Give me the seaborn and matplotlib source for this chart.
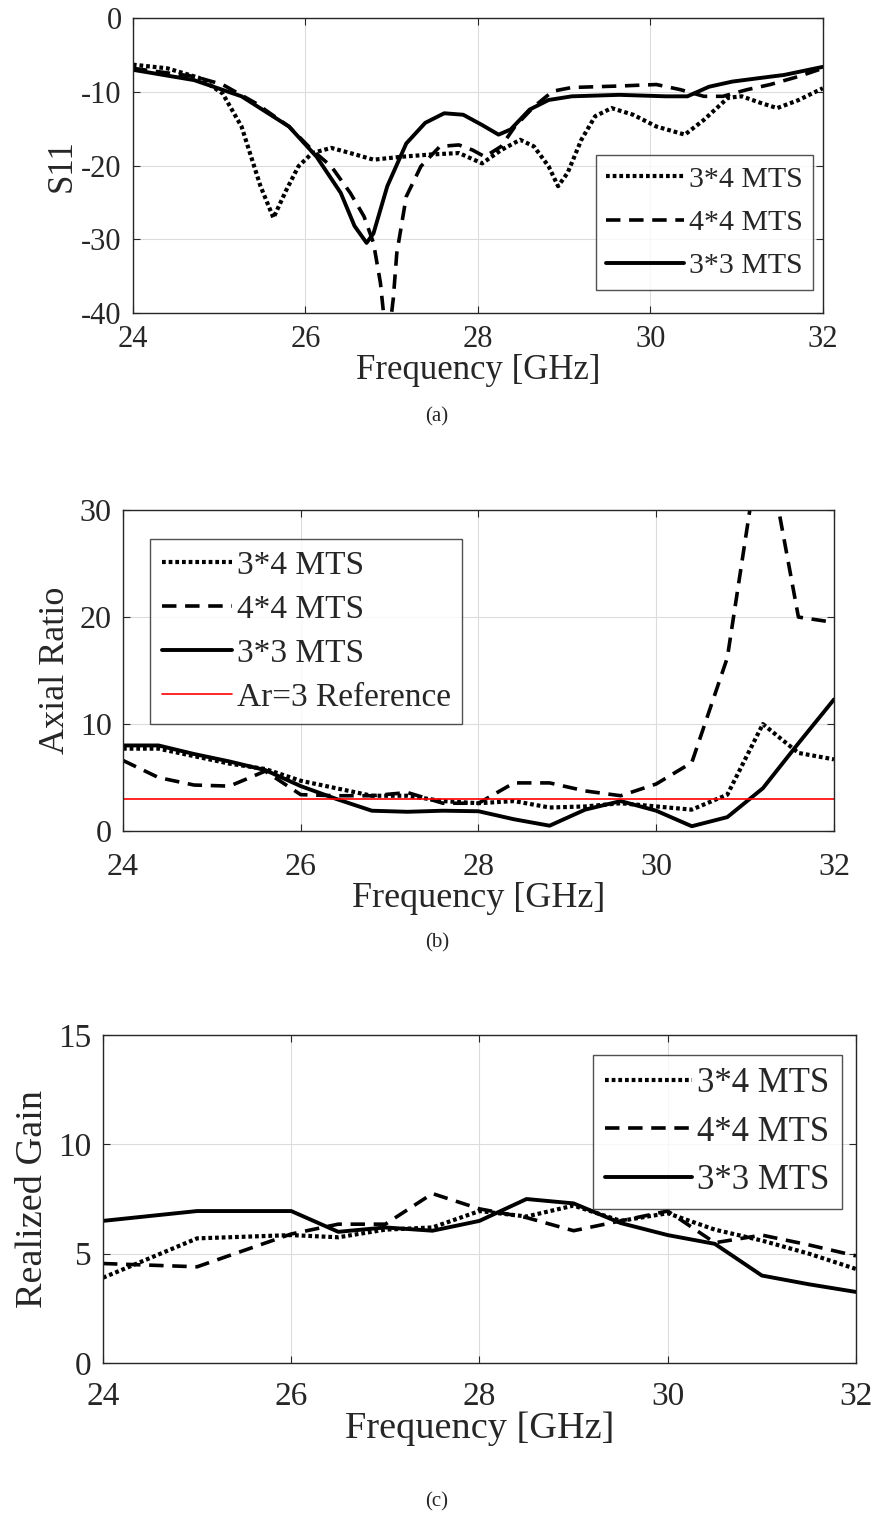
import pandas as pd
import matplotlib
matplotlib.use("Agg")
import matplotlib.pyplot as plt
import seaborn as sns

# ---- panel (a): S11 ----
s11_f_34 = [24.0, 24.4, 24.77, 25.04, 25.26, 25.48, 25.63, 25.78, 25.92, 26.08, 26.3, 26.52, 26.79,
            27.12, 27.45, 27.78, 28.05, 28.27, 28.49, 28.65, 28.82, 28.93, 29.04, 29.2, 29.36, 29.55,
            29.8, 30.07, 30.4, 30.62, 30.9, 31.06, 31.28, 31.47, 31.72, 32.0]
s11_v_34 = [-6.3, -6.8, -8.1, -10.2, -14.7, -22.8, -27.1, -23.3, -20.1, -18.3, -17.6, -18.3, -19.2,
            -18.8, -18.5, -18.3, -19.7, -17.9, -16.5, -17.4, -20.1, -22.8, -21.0, -16.5, -13.3, -12.2,
            -13.1, -14.7, -15.8, -13.8, -10.8, -10.6, -11.5, -12.2, -11.1, -9.5]
s11_f_44 = [24.0, 24.71, 25.04, 25.42, 25.81, 26.08, 26.3, 26.52, 26.68, 26.79, 26.87, 26.95, 27.02,
            27.06, 27.17, 27.34, 27.56, 27.78, 27.94, 28.08, 28.27, 28.43, 28.65, 28.87, 29.09, 29.64,
            30.07, 30.35, 30.62, 30.84, 31.12, 31.39, 31.72, 32.0]
s11_v_44 = [-6.8, -7.9, -9.0, -11.5, -14.7, -17.9, -20.1, -23.7, -26.9, -30.5, -35.9, -45.0, -38.0,
            -31.9, -24.2, -20.1, -17.4, -17.2, -17.9, -18.8, -17.4, -14.7, -12.0, -9.9, -9.4, -9.2,
            -9.0, -9.7, -10.6, -10.6, -9.7, -9.0, -7.9, -6.8]
s11_f_33 = [24.0, 24.71, 25.26, 25.81, 26.13, 26.41, 26.57, 26.71, 26.79, 26.95, 27.17, 27.39, 27.61,
            27.83, 28.05, 28.24, 28.38, 28.6, 28.82, 29.09, 29.64, 30.18, 30.43, 30.68, 30.95, 31.28,
            31.55, 32.0]
s11_v_33 = [-7.0, -8.4, -10.6, -14.7, -18.8, -23.7, -28.2, -30.5, -29.2, -22.8, -17.0, -14.2, -12.9,
            -13.1, -14.5, -15.8, -15.1, -12.4, -11.1, -10.6, -10.4, -10.6, -10.6, -9.3, -8.6, -8.1,
            -7.7, -6.6]

# ---- panel (b): axial ratio ----
ar_freq = [24.0, 24.4, 24.8, 25.2, 25.6, 26.0, 26.4, 26.8, 27.2, 27.6, 28.0,
           28.4, 28.8, 29.2, 29.6, 30.0, 30.4, 30.8, 31.2, 31.6, 32.0]
ar_34 = [7.7, 7.7, 7.0, 6.3, 5.8, 4.7, 4.0, 3.3, 3.3, 2.8, 2.6,
         2.8, 2.2, 2.3, 2.6, 2.3, 2.0, 3.4, 10.0, 7.3, 6.7]
ar_44 = [6.6, 5.0, 4.3, 4.2, 5.6, 3.4, 3.3, 3.3, 3.6, 2.6, 2.6,
         4.5, 4.5, 3.75, 3.3, 4.4, 6.4, 16.2, 38.0, 20.0, 19.5]
ar_33 = [8.0, 8.0, 7.2, 6.5, 5.7, 4.2, 3.0, 1.9, 1.8, 1.9, 1.85,
         1.1, 0.5, 2.0, 2.8, 1.9, 0.45, 1.3, 4.0, 8.2, 12.3]
ar_ref = 3

# ---- panel (c): realized gain ----
gain_freq = [24.0, 25.0, 26.0, 26.5, 27.0, 27.5, 28.0, 28.5, 29.0, 29.5, 30.0, 30.5, 31.0, 31.5, 32.0]
gain_34 = [3.9, 5.7, 5.85, 5.75, 6.1, 6.2, 6.95, 6.7, 7.2, 6.5, 6.85, 6.1, 5.6, 5.0, 4.3]
gain_44 = [4.55, 4.4, 5.9, 6.35, 6.35, 7.75, 7.05, 6.65, 6.05, 6.5, 6.95, 5.5, 5.85, 5.4, 4.9]
gain_33 = [6.5, 6.95, 6.95, 6.0, 6.2, 6.05, 6.5, 7.5, 7.3, 6.4, 5.85, 5.45, 4.0, 3.6, 3.25]

labels = ["3*4 MTS", "4*4 MTS", "3*3 MTS"]

sns.set_theme(style="whitegrid")
plt.rcParams["font.family"] = ["Liberation Serif", "DejaVu Serif"]
plt.rcParams["axes.unicode_minus"] = False

dotted = dict(color="black", lw=3.0, ls=(0, (0.9, 0.7)))
dashed = dict(color="black", lw=2.6, ls=(0, (4.0, 2.4)))
solid = dict(color="black", lw=2.8, ls="-")


def style_axes(ax, fs_tick, fs_label, ylabel, xpad, ylabelpad=6):
    ax.set_facecolor("white")
    ax.grid(True, color="#dcdcdc", lw=0.8)
    for sp in ax.spines.values():
        sp.set_color("#262626")
        sp.set_linewidth(1.0)
        sp.set_visible(True)
    ax.tick_params(direction="in", length=5, width=0.8, color="#262626",
                   top=True, right=True, bottom=True, left=True,
                   labelsize=fs_tick, pad=8)
    ax.tick_params(axis="x", pad=xpad)
    ax.set_xlim(24, 32)
    ax.set_xticks([24, 26, 28, 30, 32])
    ax.set_xlabel("Frequency [GHz]", fontsize=fs_label, labelpad=0)
    ax.set_ylabel(ylabel, fontsize=fs_label, labelpad=ylabelpad)


def add_legend(ax, fs, hl, ls, **kw):
    leg = ax.legend(fontsize=fs, frameon=True, fancybox=False, edgecolor="#262626",
                    handlelength=hl, handletextpad=0.15, labelspacing=ls,
                    borderpad=0.35, borderaxespad=0.0, **kw)
    leg.get_frame().set_linewidth(1.0)
    return leg


fig = plt.figure(figsize=(8.74, 15.19), dpi=100)

# (a)
ax1 = fig.add_axes([0.152, 0.794, 0.7895, 0.194])
sns.lineplot(x=s11_f_34, y=s11_v_34, ax=ax1, label=labels[0], sort=False, **dotted)
sns.lineplot(x=s11_f_44, y=s11_v_44, ax=ax1, label=labels[1], sort=False, **dashed)
sns.lineplot(x=s11_f_33, y=s11_v_33, ax=ax1, label=labels[2], sort=False, **solid)
style_axes(ax1, 22, 25, "S11", 9, ylabelpad=2)
ax1.set_ylim(-40, 0)
ax1.set_yticks([0, -10, -20, -30, -40])
add_legend(ax1, 21.5, 2.6, 0.55, loc="lower right", bbox_to_anchor=(0.9855, 0.078))
fig.text(0.5, 0.7255, "(a)", ha="center", va="center", fontsize=15)

# (b)
ax2 = fig.add_axes([0.1407, 0.4529, 0.8135, 0.2113])
sns.lineplot(x=ar_freq, y=ar_34, ax=ax2, label=labels[0], **dotted)
sns.lineplot(x=ar_freq, y=ar_44, ax=ax2, label=labels[1], **dashed)
sns.lineplot(x=ar_freq, y=ar_33, ax=ax2, label=labels[2], **solid)
ax2.axhline(ar_ref, color="red", lw=1.2, label="Ar=3 Reference")
style_axes(ax2, 23, 26, "Axial Ratio", 16)
ax2.set_ylim(0, 30)
ax2.set_yticks([0, 10, 20, 30])
add_legend(ax2, 24, 2.1, 0.4, loc="upper left", bbox_to_anchor=(0.038, 0.91))
fig.text(0.5, 0.3795, "(b)", ha="center", va="center", fontsize=15)

# (c)
ax3 = fig.add_axes([0.1178, 0.1027, 0.8616, 0.2159])
sns.lineplot(x=gain_freq, y=gain_34, ax=ax3, label=labels[0], **dotted)
sns.lineplot(x=gain_freq, y=gain_44, ax=ax3, label=labels[1], **dashed)
sns.lineplot(x=gain_freq, y=gain_33, ax=ax3, label=labels[2], **solid)
style_axes(ax3, 24, 27.5, "Realized Gain", 13)
ax3.set_ylim(0, 15)
ax3.set_yticks([0, 5, 10, 15])
add_legend(ax3, 25, 2.5, 0.45, loc="upper right", bbox_to_anchor=(0.981, 0.94))
fig.text(0.5, 0.0115, "(c)", ha="center", va="center", fontsize=15)

fig.savefig("out.png", dpi=100, facecolor="white")
